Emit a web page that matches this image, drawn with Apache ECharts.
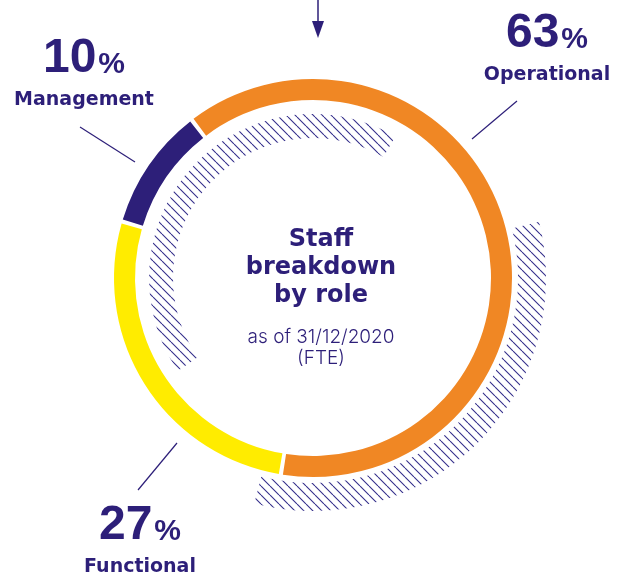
<!DOCTYPE html>
<html>
<head>
<meta charset="utf-8">
<script src="https://cdn.jsdelivr.net/npm/echarts@6/dist/echarts.min.js"></script>
<style>
  html, body { margin: 0; padding: 0; background: #fff; }
  #chart { width: 630px; height: 577px; }
</style>
</head>
<body>
<div id="chart"></div>
<script>
    // staff breakdown by role, 31/12/2020 (FTE), in %
    var roles = ['Operational', 'Functional', 'Management'];
    var shares = [63, 27, 10];
    var roleColors = ['#f08724', '#ffec00', '#2d1f79'];

    var navy = '#2d1f79';

    // where each label block sits (top centre)
    var labelPos = [[547, 12], [140, 504], [84, 37]];

    // diagonal hatch tile used for the decorative arcs
    function hatchTile() {
        var n = 9;
        var c = document.createElement('canvas');
        c.width = n;
        c.height = n;
        var g = c.getContext('2d');
        g.strokeStyle = '#35308c';
        g.lineWidth = 1.1;
        g.beginPath();
        [-n, 0, n].forEach(function (o) {
            g.moveTo(o, 0);
            g.lineTo(o + n, n);
        });
        g.stroke();
        return c;
    }
    var hatch = { image: hatchTile(), repeat: 'repeat' };

    function hatchArc(start, span, radius) {
        return {
            type: 'pie',
            silent: true,
            center: [313, 278],
            radius: radius,
            startAngle: start,
            label: { show: false },
            labelLine: { show: false },
            emphasis: { disabled: true },
            data: [
                { value: span, itemStyle: { color: hatch } },
                { value: 360 - span, itemStyle: { color: 'transparent' } }
            ]
        };
    }

    var myCharts = echarts.init(document.getElementById('chart'));
    myCharts.setOption({
        animation: false,
        graphic: [
            // arrow at the top
            { type: 'line', shape: { x1: 318, y1: 0, x2: 318, y2: 24 }, style: { stroke: navy, lineWidth: 1.5 } },
            { type: 'polygon', shape: { points: [[312, 21], [324, 21], [318, 38]] }, style: { fill: navy } },
            // leader lines
            { type: 'line', shape: { x1: 80, y1: 127, x2: 135, y2: 162 }, style: { stroke: navy, lineWidth: 1.2 } },
            { type: 'line', shape: { x1: 517, y1: 101, x2: 472, y2: 139 }, style: { stroke: navy, lineWidth: 1.2 } },
            { type: 'line', shape: { x1: 177, y1: 443, x2: 138, y2: 490 }, style: { stroke: navy, lineWidth: 1.2 } },
            // centre text
            {
                type: 'text', x: 321, y: 226,
                style: {
                    text: 'Staff\nbreakdown\nby role',
                    align: 'center', verticalAlign: 'top',
                    fontFamily: 'DejaVu Sans', fontWeight: 'bold', fontSize: 24,
                    lineHeight: 28, fill: navy
                }
            },
            {
                type: 'text', x: 321, y: 327,
                style: {
                    text: 'as of 31/12/2020\n(FTE)',
                    align: 'center', verticalAlign: 'top',
                    fontFamily: 'Inter', fontWeight: 300, fontSize: 19,
                    lineHeight: 21, fill: navy
                }
            }
        ],
        series: [
            hatchArc(214.5, 154.7, [140, 164]),
            hatchArc(14, 118.6, [205, 233]),
            {
                name: 'Staff',
                type: 'pie',
                center: [313, 278],
                radius: [178, 199],
                startAngle: 127.5,
                padAngle: 1.2,
                silent: true,
                emphasis: { disabled: true },
                labelLine: { show: false },
                label: {
                    show: true,
                    position: 'inside',
                    overflow: 'none',
                    formatter: function (p) {
                        return '{num|' + p.value + '}{pct|%}\n{name|' + p.name + '}';
                    },
                    rich: {
                        num: {
                            fontFamily: 'Liberation Sans', fontWeight: 'bold', fontSize: 48,
                            lineHeight: 46, color: navy, verticalAlign: 'bottom'
                        },
                        pct: {
                            fontFamily: 'Liberation Sans', fontWeight: 'bold', fontSize: 30,
                            lineHeight: 30, color: navy, verticalAlign: 'bottom', padding: [0, 0, 3, 2]
                        },
                        name: {
                            fontFamily: 'DejaVu Sans', fontWeight: 'bold', fontSize: 19,
                            lineHeight: 34, color: navy, align: 'center'
                        }
                    }
                },
                labelLayout: function (p) {
                    return {
                        x: labelPos[p.dataIndex][0],
                        y: labelPos[p.dataIndex][1],
                        align: 'center',
                        verticalAlign: 'top'
                    };
                },
                data: roles.map(function (r, i) {
                    return { name: r, value: shares[i], itemStyle: { color: roleColors[i] } };
                })
            }
        ]
    });
</script>
</body>
</html>
